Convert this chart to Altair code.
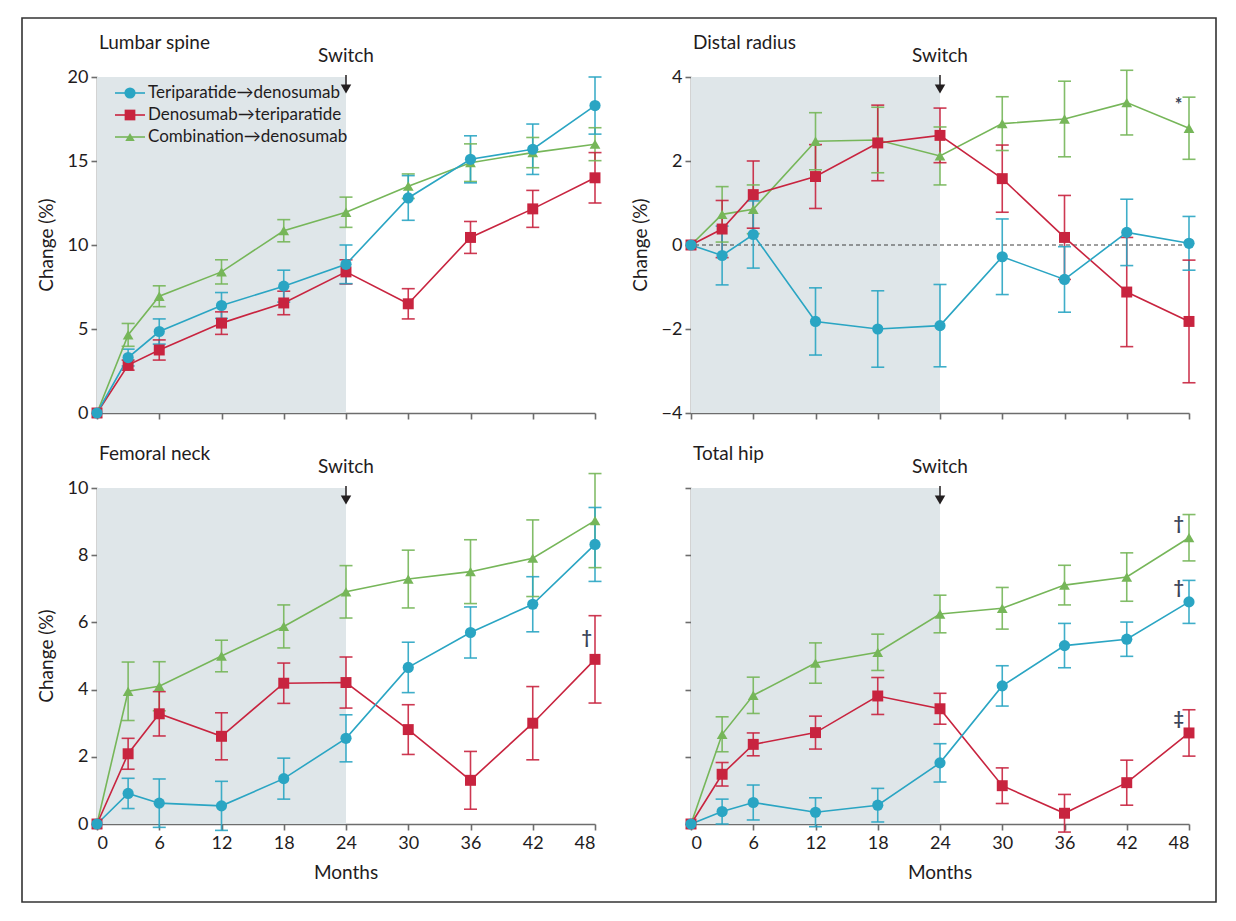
import altair as alt
import pandas as pd

months = [0, 3, 6, 12, 18, 24, 30, 36, 42, 48]
x_ticks = [0, 6, 12, 18, 24, 30, 36, 42, 48]
series = ["Teriparatide→denosumab", "Denosumab→teriparatide", "Combination→denosumab"]
colors = ["#2aa5c3", "#c8243f", "#76b659"]
shapes = ["circle", "square", "triangle-up"]
sizes = [125, 115, 90]

# Lumbar spine
ls_td = [0, 3.3, 4.85, 6.4, 7.55, 8.85, 12.8, 15.1, 15.7, 18.3]
ls_td_err = [0, 0.5, 0.75, 0.77, 0.95, 1.15, 1.33, 1.4, 1.5, 1.7]
ls_dt = [0, 2.85, 3.75, 5.35, 6.55, 8.4, 6.5, 10.45, 12.15, 14.0]
ls_dt_err = [0, 0.3, 0.6, 0.67, 0.7, 0.72, 0.9, 0.95, 1.1, 1.5]
ls_cd = [0, 4.65, 6.95, 8.4, 10.85, 11.95, 13.5, 14.9, 15.5, 16.0]
ls_cd_err = [0, 0.68, 0.62, 0.72, 0.66, 0.9, 0.73, 1.12, 0.9, 0.98]

# Distal radius
dr_td = [0, -0.25, 0.25, -1.82, -2.0, -1.92, -0.28, -0.82, 0.3, 0.04]
dr_td_err = [0, 0.7, 0.8, 0.8, 0.91, 0.98, 0.9, 0.78, 0.79, 0.64]
dr_dt = [0, 0.38, 1.2, 1.63, 2.43, 2.61, 1.58, 0.18, -1.12, -1.82]
dr_dt_err = [0, 0.68, 0.8, 0.76, 0.9, 0.65, 0.8, 1.0, 1.3, 1.46]
dr_cd = [0, 0.73, 0.85, 2.47, 2.5, 2.12, 2.89, 3.0, 3.39, 2.78]
dr_cd_err = [0, 0.66, 0.58, 0.68, 0.78, 0.69, 0.64, 0.9, 0.77, 0.74]

# Femoral neck
fn_td = [0, 0.91, 0.62, 0.54, 1.35, 2.55, 4.66, 5.7, 6.54, 8.32]
fn_td_err = [0, 0.45, 0.72, 0.73, 0.61, 0.7, 0.75, 0.76, 0.82, 1.1]
fn_dt = [0, 2.09, 3.28, 2.61, 4.19, 4.21, 2.81, 1.3, 3.0, 4.9]
fn_dt_err = [0, 0.46, 0.66, 0.7, 0.6, 0.76, 0.74, 0.86, 1.09, 1.3]
fn_cd = [0, 3.95, 4.1, 5.0, 5.88, 6.91, 7.29, 7.51, 7.91, 9.03]
fn_cd_err = [0, 0.87, 0.73, 0.47, 0.64, 0.78, 0.86, 0.95, 1.14, 1.4]

# Total hip
th_td = [0, 0.37, 0.64, 0.35, 0.56, 1.82, 4.11, 5.31, 5.5, 6.61]
th_td_err = [0, 0.37, 0.52, 0.43, 0.5, 0.57, 0.6, 0.66, 0.51, 0.64]
th_dt = [0, 1.48, 2.37, 2.72, 3.81, 3.43, 1.14, 0.32, 1.23, 2.71]
th_dt_err = [0, 0.35, 0.34, 0.49, 0.55, 0.46, 0.53, 0.56, 0.67, 0.69]
th_cd = [0, 2.67, 3.83, 4.79, 5.11, 6.25, 6.42, 7.11, 7.35, 8.52]
th_cd_err = [0, 0.52, 0.54, 0.6, 0.54, 0.56, 0.62, 0.59, 0.72, 0.69]

# annotation marks (symbol, month, value)
dr_notes = [("*", 47.0, 3.3)]
fn_notes = [("†", 47.2, 5.5)]
th_notes = [("†", 47.0, 8.9), ("†", 47.0, 7.0), ("‡", 47.0, 3.1)]

FONT = "Lato"
W, H = 498, 336
TEXT = "#1f1c1d"
AXIS = "#6d6d6d"

color_scale = alt.Scale(domain=series, range=colors)
shape_scale = alt.Scale(domain=series, range=shapes)
size_scale = alt.Scale(domain=series, range=sizes)


def long_df(vals, errs):
    rows = []
    # draw green, red, teal (teal on top)
    for i in [2, 1, 0]:
        for m, v, e in zip(months, vals[i], errs[i]):
            rows.append({"month": m, "value": v, "err": e, "lo": v - e, "hi": v + e,
                         "series": series[i]})
    return pd.DataFrame(rows)


def panel(title, vals, errs, ydom, yticks, ylabels=True, xlabels=False,
          zero_line=False, notes=None, legend=False, frame=False):
    df = long_df(vals, errs)
    eb = df[df["err"] > 0]
    xs = alt.Scale(domain=[0, 48], nice=False, zero=False)
    ys = alt.Scale(domain=ydom, nice=False, zero=False)
    xaxis = alt.Axis(values=x_ticks, labels=xlabels, title=None,
                     grid=False, tickSize=6, labelFontSize=18,
                     labelPadding=4, format="d")
    yaxis = alt.Axis(values=yticks, labels=ylabels, title=None,
                     grid=False, tickSize=6, labelFontSize=18,
                     labelPadding=3, format="d")

    def X(f):
        return alt.X(f, scale=xs, axis=xaxis)

    def Y(f):
        return alt.Y(f, scale=ys, axis=yaxis)

    shade_df = pd.DataFrame({"x": [0], "x2": [24], "y": [ydom[0]], "y2": [ydom[1]]})
    shade = alt.Chart(shade_df).mark_rect(color="#dfe6e9").encode(
        x=X("x:Q"), x2="x2:Q", y=Y("y:Q"), y2="y2:Q")

    layers = [shade]
    if zero_line:
        layers.append(alt.Chart(pd.DataFrame({"z": [0]})).mark_rule(
            color="#3f3f3f", strokeDash=[4, 3], strokeWidth=1).encode(y=Y("z:Q")))

    col = alt.Color("series:N", scale=color_scale, legend=None)
    bars = alt.Chart(eb).mark_rule(strokeWidth=1.6, opacity=0.9).encode(
        x=X("month:Q"), y=Y("lo:Q"), y2="hi:Q", color=col)
    cap_lo = alt.Chart(eb).mark_tick(orient="horizontal", size=13, thickness=1.6, opacity=0.9).encode(
        x=X("month:Q"), y=Y("lo:Q"), color=col)
    cap_hi = alt.Chart(eb).mark_tick(orient="horizontal", size=13, thickness=1.6, opacity=0.9).encode(
        x=X("month:Q"), y=Y("hi:Q"), color=col)
    line = alt.Chart(df).mark_line(strokeWidth=1.6).encode(
        x=X("month:Q"), y=Y("value:Q"), color=col, detail="series:N")
    pts = alt.Chart(df).mark_point(filled=True, opacity=1).encode(
        x=X("month:Q"), y=Y("value:Q"), color=col,
        shape=alt.Shape("series:N", scale=shape_scale, legend=None),
        size=alt.Size("series:N", scale=size_scale, legend=None))
    layers += [bars, cap_lo, cap_hi, line, pts]

    one = pd.DataFrame({"a": [0]})
    ttl = alt.Chart(one).mark_text(text=title, font=FONT, fontSize=19, color=TEXT,
                                   align="left", baseline="alphabetic").encode(
        x=alt.value(2), y=alt.value(-28))
    sw_text = alt.Chart(one).mark_text(text="Switch", font=FONT, fontSize=19, color=TEXT,
                                       baseline="alphabetic").encode(
        x=alt.datum(24, scale=xs), y=alt.value(-15))
    sw_stem = alt.Chart(one).mark_rule(color="#231f20", strokeWidth=1.5).encode(
        x=alt.datum(24, scale=xs), y=alt.value(-2), y2=alt.value(10))
    sw_head = alt.Chart(one).mark_point(shape="triangle-down", filled=True, size=110,
                                        color="#231f20", opacity=1).encode(
        x=alt.datum(24, scale=xs), y=alt.value(12))
    layers += [ttl, sw_text, sw_stem, sw_head]

    if ylabels:
        layers.append(alt.Chart(one).mark_text(text="Change (%)", font=FONT, fontSize=19,
                                               color=TEXT, angle=270, align="center",
                                               baseline="middle").encode(
            x=alt.value(-50), y=alt.value(H / 2)))
    if xlabels:
        layers.append(alt.Chart(one).mark_text(text="Months", font=FONT, fontSize=19,
                                               color=TEXT, align="center",
                                               baseline="middle").encode(
            x=alt.datum(24, scale=xs), y=alt.value(H + 49)))

    if notes:
        ndf = pd.DataFrame(notes, columns=["sym", "month", "value"])
        layers.append(alt.Chart(ndf).mark_text(font=FONT, fontSize=18, color="#3b4458",
                                               fontWeight="bold").encode(
            x=alt.X("month:Q", scale=xs), y=alt.Y("value:Q", scale=ys), text="sym:N"))

    if legend:
        for k in range(3):
            yy = 16 + 22 * k
            layers.append(alt.Chart(one).mark_rule(color=colors[k], strokeWidth=1.6).encode(
                x=alt.value(18), x2=alt.value(48), y=alt.value(yy)))
            layers.append(alt.Chart(one).mark_point(shape=shapes[k], filled=True, size=sizes[k],
                                                    color=colors[k], opacity=1).encode(
                x=alt.value(33), y=alt.value(yy)))
            layers.append(alt.Chart(one).mark_text(text=series[k], align="left", baseline="middle",
                                                   font=FONT, fontSize=17, color=TEXT).encode(
                x=alt.value(51), y=alt.value(yy)))

    if frame:
        layers.append(alt.Chart(one).mark_rect(fillOpacity=0, stroke="#333333", strokeWidth=1.6).encode(
            x=alt.value(-75), x2=alt.value(1119), y=alt.value(-59), y2=alt.value(825)))

    return alt.layer(*layers).properties(width=W, height=H)


p1 = panel("Lumbar spine", [ls_td, ls_dt, ls_cd], [ls_td_err, ls_dt_err, ls_cd_err],
           [0, 20], [0, 5, 10, 15, 20], legend=True, frame=True)
p2 = panel("Distal radius", [dr_td, dr_dt, dr_cd], [dr_td_err, dr_dt_err, dr_cd_err],
           [-4, 4], [-4, -2, 0, 2, 4], zero_line=True, notes=dr_notes)
p3 = panel("Femoral neck", [fn_td, fn_dt, fn_cd], [fn_td_err, fn_dt_err, fn_cd_err],
           [0, 10], [0, 2, 4, 6, 8, 10], xlabels=True, notes=fn_notes)
p4 = panel("Total hip", [th_td, th_dt, th_cd], [th_td_err, th_dt_err, th_cd_err],
           [0, 10], [0, 2, 4, 6, 8, 10], ylabels=False, xlabels=True, notes=th_notes)

chart = alt.concat(p1, p2, p3, p4, columns=2, spacing={"row": 75, "column": 96}).properties(
    bounds="flush",
    padding={"left": 21, "top": 17, "right": 19, "bottom": 18},
    background="white",
).resolve_scale(color="shared", shape="shared", size="shared").configure_view(
    stroke=None
).configure_axis(
    labelFont=FONT, labelColor=TEXT, labelFontSize=18,
    domainColor=AXIS, tickColor=AXIS, domainWidth=1.6, tickWidth=1.6
)

chart.save("out.html", embed_options={"renderer": "svg", "actions": False})
